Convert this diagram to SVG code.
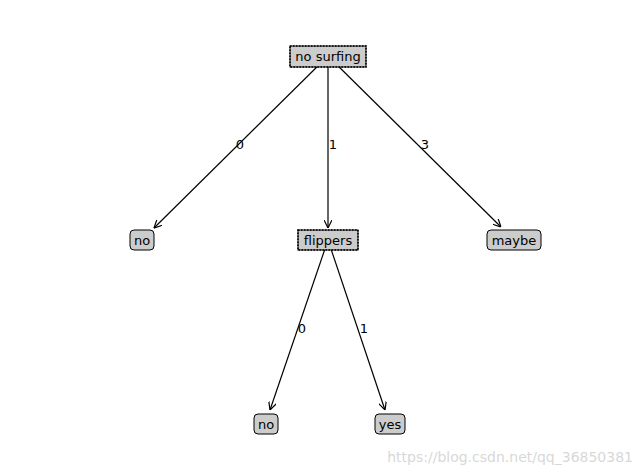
<svg xmlns="http://www.w3.org/2000/svg" width="640" height="476" viewBox="0 0 640 476">
<style>
text{font-family:"DejaVu Sans",sans-serif;font-size:13px;fill:#000}
.leaf{fill:#ccc;stroke:#000;stroke-width:1}
.dec{fill:#ccc;stroke:#000;stroke-width:1}
.saw{fill:none;stroke:#000;stroke-width:1.5;stroke-dasharray:1.5,1.5}
.e{stroke:#000;stroke-width:1.2;fill:none;marker-end:url(#a)}
.c{text-anchor:middle}
</style>
<defs><marker id="a" viewBox="0 0 10 10" refX="10" refY="5" markerWidth="8" markerHeight="8" orient="auto" markerUnits="userSpaceOnUse"><path d="M0,0L10,5L0,10" fill="none" stroke="#000" stroke-width="1.5"/></marker></defs>
<rect width="640" height="476" fill="#fff"/>
<g id="connectors">
<line class="e" x1="328" y1="56" x2="154" y2="228"/>
<line class="e" x1="328" y1="56" x2="328" y2="228"/>
<line class="e" x1="328" y1="56" x2="501" y2="227"/>
<line class="e" x1="328" y1="240" x2="270" y2="410"/>
<line class="e" x1="328" y1="240" x2="385" y2="410"/>
<text x="240" y="149" class="c">0</text>
<text x="333" y="149" class="c">1</text>
<text x="425" y="149" class="c">3</text>
<text x="302" y="333" class="c">0</text>
<text x="364" y="333" class="c">1</text>
</g>
<g id="n-nosurfing"><rect class="dec" x="290" y="46" width="76" height="21"/><rect class="saw" x="290" y="46" width="76" height="21"/><text x="328" y="61" class="c">no surfing</text></g>
<g id="n-flippers"><rect class="dec" x="298" y="230" width="60" height="20"/><rect class="saw" x="298" y="230" width="60" height="20"/><text x="328" y="245" class="c">flippers</text></g>
<g id="l-no1"><rect class="leaf" x="130" y="230" width="24" height="20" rx="4"/><text x="142" y="245" class="c">no</text></g>
<g id="l-maybe"><rect class="leaf" x="487" y="230" width="54" height="20" rx="4"/><text x="514" y="245" class="c">maybe</text></g>
<g id="l-no2"><rect class="leaf" x="254" y="414" width="24" height="20" rx="4"/><text x="266" y="429" class="c">no</text></g>
<g id="l-yes"><rect class="leaf" x="375" y="414" width="30" height="20" rx="4"/><text x="390" y="429" class="c">yes</text></g>
<text x="633" y="462" text-anchor="end" style="fill:#d8d8d8;font-size:14px">https://blog.csdn.net/qq_36850381</text>
</svg>
